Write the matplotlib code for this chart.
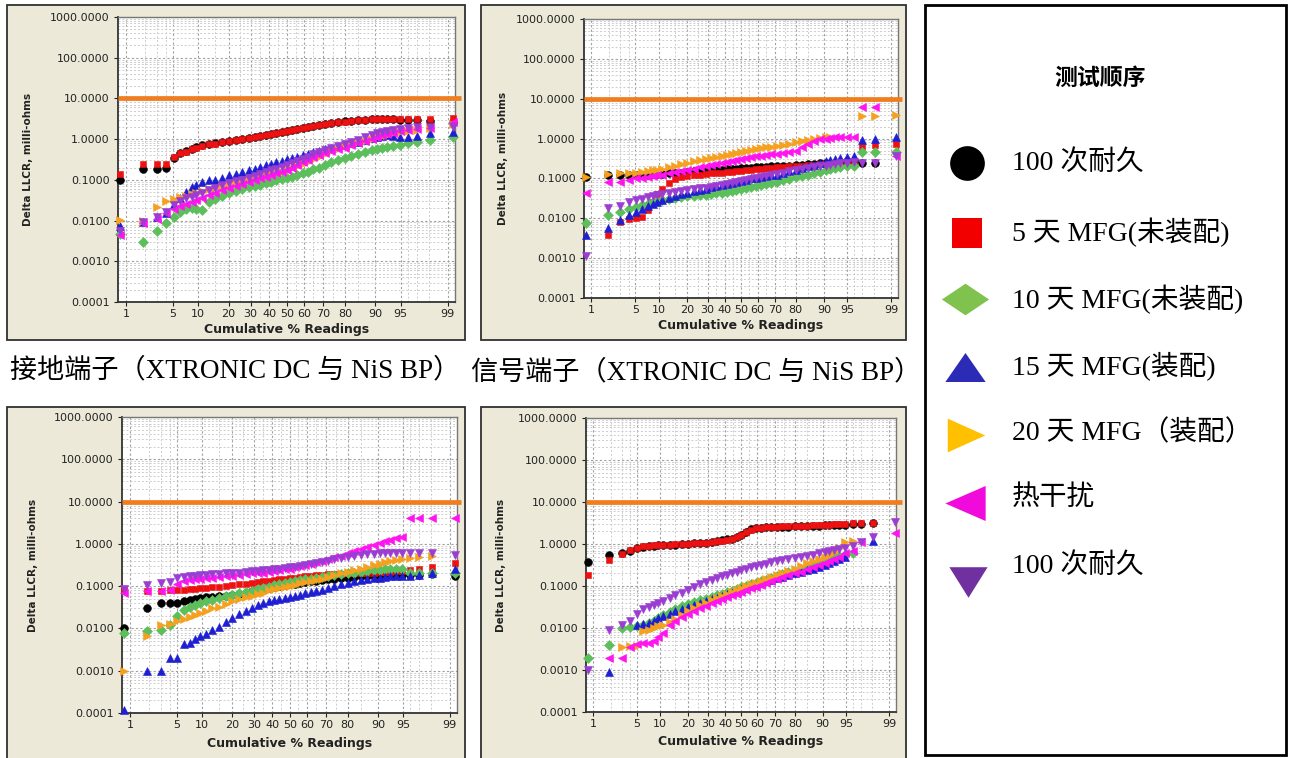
import numpy as np
import matplotlib
matplotlib.use("Agg")
import matplotlib.pyplot as plt
from matplotlib.patches import Rectangle
from matplotlib.ticker import FixedLocator, FixedFormatter, LogLocator, NullFormatter
from statistics import NormalDist

N = None  # no visible point at this rank

# ---------------- data ----------------
cum_pct = [0.8, 1.9, 3.0, 4.0, 5.1, 6.2, 7.3, 8.4, 9.5, 11, 13, 15, 17.5, 20, 23, 26, 29, 32,
           35, 38, 41, 44, 47, 50, 53, 56, 59, 62, 65, 68, 71, 74, 77, 80, 82.5, 85, 87, 89,
           90.5, 91.6, 92.7, 93.8, 94.9, 96, 97, 98.1, 99.2]

x_ticks = [1, 5, 10, 20, 30, 40, 50, 60, 70, 80, 90, 95, 99]
x_minor = [2, 3, 4, 15, 25, 35, 45, 55, 65, 75, 85, 96, 97, 98]
y_ticks = [0.0001, 0.001, 0.01, 0.1, 1, 10, 100, 1000]
y_ticklabels = ["0.0001", "0.0010", "0.0100", "0.1000", "1.0000", "10.0000", "100.0000", "1000.0000"]
limit_value = 10.0

series_labels = ["100 次耐久", "5 天 MFG(未装配)", "10 天 MFG(未装配)", "15 天 MFG(装配)",
                 "20 天 MFG（装配）", "热干扰", "100 次耐久"]
legend_title = "测试顺序"
captions = ["接地端子（XTRONIC DC 与 NiS BP）", "信号端子（XTRONIC DC 与 NiS BP）"]
y_label = "Delta LLCR, milli-ohms"
x_label = "Cumulative % Readings"

# panel 1 (top left)
p1_black = [0.10, 0.19, 0.19, 0.20, 0.35, 0.45, 0.50, 0.58, 0.64, 0.70, 0.76, 0.80, 0.87, 0.90, 0.95, 1.00,
            1.06, 1.12, 1.18, 1.24, 1.32, 1.40, 1.48, 1.56, 1.66, 1.75, 1.83, 1.95, 2.07, 2.20, 2.33, 2.47,
            2.62, 2.72, 2.82, 2.92, 3.00, 3.05, 3.10, 3.10, 3.10, 3.10, 3.00, 2.90, 2.90, 2.80, 2.70]
p1_red = [0.14, 0.24, 0.24, 0.25, 0.37, 0.45, 0.49, 0.56, 0.61, 0.67, 0.74, 0.78, 0.86, 0.90, 0.96, 1.02,
          1.08, 1.14, 1.20, 1.25, 1.33, 1.41, 1.49, 1.57, 1.67, 1.76, 1.83, 1.94, 2.05, 2.17, 2.30, 2.43,
          2.58, 2.68, 2.78, 2.89, 3.00, 3.06, 3.10, 3.20, 3.20, 3.20, 3.20, 3.10, 3.20, 3.20, 3.40]
p1_green = [0.0047, 0.0030, 0.0056, 0.0085, 0.012, 0.016, 0.019, 0.020, 0.019, 0.018, 0.028, 0.033, 0.040,
            0.047, 0.052, 0.058, 0.065, 0.070, 0.076, 0.082, 0.090, 0.098, 0.105, 0.110, 0.120, 0.130, 0.145,
            0.160, 0.180, 0.200, 0.230, 0.270, 0.310, 0.350, 0.390, 0.430, 0.480, 0.540, 0.570, 0.600, 0.640,
            0.680, 0.730, 0.800, 0.850, 0.950, 1.10]
p1_blue = [0.0075, 0.0090, 0.012, 0.015, 0.025, 0.036, 0.050, 0.066, 0.075, 0.088, 0.100, 0.100, 0.110, 0.130,
           0.140, 0.160, 0.175, 0.190, 0.210, 0.230, 0.250, 0.270, 0.290, 0.320, 0.340, 0.370, 0.400, 0.440,
           0.480, 0.520, 0.560, 0.610, 0.670, 0.730, 0.800, 0.870, 0.950, 1.05, 1.12, 1.20, 1.25, 1.20, 1.15,
           1.15, 1.20, 1.40, 1.50]
p1_orange = [0.0105, 0.0095, 0.022, 0.030, 0.034, 0.037, 0.040, 0.044, 0.048, 0.053, 0.058, 0.062, 0.068,
             0.075, 0.082, 0.090, 0.100, 0.110, 0.120, 0.130, 0.140, 0.150, 0.160, 0.180, 0.200, 0.220, 0.250,
             0.280, 0.320, 0.360, 0.420, 0.500, 0.580, 0.660, 0.750, 0.840, 0.920, 1.00, 1.10, 1.20, 1.30,
             1.40, 1.50, 1.60, 1.70, 1.90, 2.40]
p1_magenta = [0.0045, 0.0085, 0.011, 0.015, 0.019, 0.023, 0.026, 0.029, 0.032, 0.036, 0.042, 0.048, 0.055,
              0.062, 0.070, 0.078, 0.088, 0.098, 0.110, 0.120, 0.135, 0.150, 0.160, 0.175, 0.200, 0.230, 0.270,
              0.310, 0.360, 0.400, 0.450, 0.500, 0.560, 0.620, 0.700, 0.800, 0.900, 1.02, 1.12, 1.25, 1.35,
              1.45, 1.55, 1.70, 1.80, 1.85, 2.70]
p1_purple = [0.0055, 0.0094, 0.0124, 0.0165, 0.024, 0.030, 0.035, 0.039, 0.042, 0.048, 0.056, 0.064, 0.073,
             0.082, 0.092, 0.100, 0.110, 0.125, 0.140, 0.155, 0.170, 0.190, 0.210, 0.230, 0.260, 0.290, 0.330,
             0.370, 0.420, 0.470, 0.530, 0.600, 0.670, 0.750, 0.860, 0.980, 1.10, 1.25, 1.40, 1.50, 1.60,
             1.70, 1.80, 1.90, 1.95, 2.00, 2.00]

# panel 2 (top right)
p2_black = [0.11, 0.12, 0.12, 0.12, 0.12, 0.125, 0.125, 0.13, 0.13, 0.13, 0.135, 0.14, 0.14, 0.145, 0.15, 0.15,
            0.155, 0.16, 0.16, 0.165, 0.17, 0.17, 0.175, 0.18, 0.18, 0.185, 0.19, 0.19, 0.195, 0.20, 0.20, 0.21,
            0.21, 0.22, 0.22, 0.23, 0.23, 0.24, 0.24, 0.25, 0.25, 0.26, 0.27, 0.27, 0.25, 0.25, N]
p2_red = [N, 0.0039, 0.0083, 0.0095, 0.010, 0.011, 0.016, 0.025, 0.040, 0.055, 0.075, 0.095, 0.110, 0.115,
          0.120, 0.125, 0.130, 0.133, 0.136, 0.140, 0.143, 0.146, 0.150, 0.155, 0.160, 0.165, 0.170, 0.175,
          0.180, 0.185, 0.190, 0.195, 0.200, 0.205, 0.210, 0.215, 0.220, 0.225, 0.230, 0.235, 0.240, 0.245,
          0.250, 0.260, 0.600, 0.700, 0.750]
p2_green = [0.0075, 0.012, 0.014, 0.017, 0.019, 0.021, 0.023, 0.025, 0.027, 0.029, 0.031, 0.033, 0.035, 0.036,
            0.037, 0.038, 0.039, 0.040, 0.042, 0.044, 0.046, 0.048, 0.050, 0.053, 0.056, 0.060, 0.064, 0.068,
            0.072, 0.077, 0.083, 0.090, 0.098, 0.106, 0.115, 0.125, 0.135, 0.145, 0.160, 0.170, 0.180, 0.190,
            0.200, 0.210, 0.470, 0.470, 0.450]
p2_blue = [0.0039, 0.0056, 0.0090, 0.012, 0.014, 0.017, 0.020, 0.023, 0.026, 0.029, 0.033, 0.036, 0.040, 0.043,
           0.047, 0.051, 0.055, 0.060, 0.064, 0.068, 0.072, 0.077, 0.083, 0.088, 0.093, 0.100, 0.105, 0.110,
           0.115, 0.120, 0.125, 0.135, 0.150, 0.165, 0.180, 0.200, 0.220, 0.250, 0.270, 0.290, 0.310, 0.330,
           0.350, 0.370, 0.940, 1.00, 1.07]
p2_orange = [0.11, 0.13, 0.135, 0.135, 0.14, 0.145, 0.15, 0.16, 0.165, 0.17, 0.19, 0.21, 0.23, 0.25, 0.27, 0.29,
             0.31, 0.33, 0.35, 0.37, 0.39, 0.41, 0.43, 0.45, 0.48, 0.51, 0.54, 0.57, 0.60, 0.63, 0.66, 0.70,
             0.75, 0.80, 0.86, 0.92, 0.98, 1.04, 1.08, 1.10, N, N, N, N, 3.6, 3.6, 3.9]
p2_magenta = [0.043, 0.080, 0.083, 0.090, 0.100, 0.105, 0.110, 0.115, 0.120, 0.125, 0.135, 0.145, 0.155, 0.165,
              0.175, 0.190, 0.205, 0.220, 0.235, 0.250, 0.265, 0.280, 0.295, 0.310, 0.325, 0.340, 0.355, 0.370,
              0.385, 0.400, 0.415, 0.430, 0.450, 0.480, 0.600, 0.750, 0.850, 0.950, 1.00, 1.04, 1.07, 1.09,
              1.10, 1.10, 6.1, 6.1, 0.36]
p2_purple = [0.0011, 0.018, 0.020, 0.025, 0.028, 0.031, 0.034, 0.036, 0.038, 0.040, 0.043, 0.045, 0.048, 0.050,
             0.053, 0.056, 0.059, 0.062, 0.066, 0.070, 0.074, 0.078, 0.083, 0.088, 0.093, 0.098, 0.104, 0.110,
             0.117, 0.124, 0.132, 0.140, 0.150, 0.160, 0.170, 0.180, 0.190, 0.200, 0.210, 0.220, 0.230, 0.240,
             0.250, 0.260, 0.250, 0.250, 0.360]

# panel 3 (bottom left)
p3_black = [0.0105, 0.031, 0.040, 0.040, 0.040, 0.045, 0.048, 0.050, 0.052, 0.054, 0.056, 0.058, 0.060, 0.063,
            0.066, 0.070, 0.075, 0.080, 0.085, 0.090, 0.095, 0.100, 0.105, 0.110, 0.115, 0.120, 0.125, 0.130,
            0.135, 0.140, 0.145, 0.150, 0.155, 0.160, 0.165, 0.170, 0.170, 0.175, 0.175, 0.180, 0.180, 0.180,
            0.180, 0.180, 0.180, 0.190, 0.170]
p3_red = [0.080, 0.075, 0.075, 0.080, 0.080, 0.082, 0.085, 0.087, 0.090, 0.092, 0.095, 0.098, 0.100, 0.105,
          0.110, 0.115, 0.120, 0.125, 0.130, 0.135, 0.140, 0.145, 0.150, 0.155, 0.160, 0.165, 0.170, 0.175,
          0.180, 0.185, 0.190, 0.190, 0.195, 0.200, 0.200, 0.200, 0.210, 0.210, 0.220, 0.220, 0.220, 0.230,
          0.230, 0.240, 0.250, 0.280, 0.350]
p3_green = [0.0080, 0.0085, 0.0093, 0.012, 0.020, 0.028, 0.032, 0.036, 0.040, 0.044, 0.048, 0.052, 0.057, 0.062,
            0.067, 0.072, 0.078, 0.084, 0.090, 0.097, 0.104, 0.110, 0.117, 0.124, 0.130, 0.137, 0.144, 0.150,
            0.157, 0.165, 0.172, 0.180, 0.190, 0.200, 0.210, 0.220, 0.230, 0.240, 0.245, 0.250, 0.250, 0.250,
            0.260, 0.200, 0.200, 0.210, 0.200]
p3_blue = [0.00012, 0.0010, 0.0010, 0.0020, 0.0020, 0.0042, 0.0045, 0.0055, 0.0065, 0.0075, 0.0090, 0.011,
           0.014, 0.018, 0.022, 0.026, 0.030, 0.035, 0.040, 0.045, 0.048, 0.050, 0.053, 0.056, 0.060, 0.063,
           0.067, 0.072, 0.077, 0.083, 0.090, 0.100, 0.110, 0.120, 0.130, 0.140, 0.150, 0.155, 0.160, 0.165,
           0.170, 0.170, 0.175, 0.175, 0.180, 0.200, 0.250]
p3_orange = [0.0010, 0.0065, 0.012, 0.013, 0.015, 0.017, 0.019, 0.021, 0.023, 0.026, 0.030, 0.033, 0.037,
             0.045, 0.050, 0.055, 0.060, 0.065, 0.070, 0.080, 0.085, 0.090, 0.095, 0.100, 0.105, 0.120, 0.125,
             0.130, 0.140, 0.150, 0.165, 0.180, 0.200, 0.220, 0.240, 0.260, 0.280, 0.310, 0.340, 0.370, 0.400,
             0.420, 0.440, 0.470, 0.500, 0.520, N]
p3_magenta = [0.070, 0.075, 0.075, 0.080, 0.110, 0.130, 0.140, 0.145, 0.150, 0.155, 0.160, 0.165, 0.170, 0.175,
              0.180, 0.190, 0.200, 0.205, 0.210, 0.220, 0.230, 0.240, 0.250, 0.260, 0.280, 0.300, 0.320, 0.340,
              0.370, 0.400, 0.440, 0.480, 0.530, 0.600, 0.670, 0.750, 0.850, 0.950, 1.05, 1.15, 1.25, 1.35,
              1.45, 4.0, 4.0, 4.0, 4.1]
p3_purple = [0.085, 0.105, 0.120, 0.125, 0.160, 0.165, 0.170, 0.175, 0.180, 0.185, 0.190, 0.195, 0.200, 0.205,
             0.210, 0.220, 0.225, 0.230, 0.240, 0.245, 0.250, 0.260, 0.270, 0.280, 0.290, 0.300, 0.310, 0.330,
             0.350, 0.370, 0.400, 0.430, 0.460, 0.500, 0.530, 0.560, 0.580, 0.590, 0.600, 0.600, 0.600, 0.600,
             0.600, 0.600, 0.600, 0.620, 0.550]

# panel 4 (bottom right)
p4_black = [0.38, 0.55, 0.60, 0.70, 0.80, 0.87, 0.90, 0.92, 0.94, 0.95, 0.96, 0.97, 0.99, 1.01, 1.03, 1.05, 1.08,
            1.12, 1.17, 1.22, 1.28, 1.35, 1.45, 1.65, 1.95, 2.25, 2.40, 2.45, 2.50, 2.50, 2.55, 2.60, 2.60,
            2.65, 2.70, 2.70, 2.75, 2.75, 2.80, 2.80, 2.85, 2.90, 2.90, 3.00, 3.00, 3.10, N]
p4_red = [0.18, 0.42, 0.58, 0.72, 0.82, 0.88, 0.92, 0.94, 0.95, 0.96, 0.97, 0.98, 1.00, 1.02, 1.04, 1.06, 1.08,
          1.12, 1.16, 1.20, 1.26, 1.33, 1.45, 1.60, 1.90, 2.20, 2.35, 2.45, 2.50, 2.55, 2.60, 2.62, 2.65, 2.70,
          2.72, 2.75, 2.78, 2.80, 2.85, 2.90, 2.95, 3.00, 3.00, 3.10, 3.20, 3.20, N]
p4_green = [0.0019, 0.0039, 0.0098, 0.0105, 0.011, 0.012, 0.013, 0.015, 0.017, 0.020, 0.024, 0.028, 0.033,
            0.038, 0.042, 0.046, 0.050, 0.055, 0.060, 0.066, 0.072, 0.078, 0.085, 0.093, 0.100, 0.110, 0.120,
            0.130, 0.140, 0.155, 0.170, 0.190, 0.210, 0.230, 0.260, 0.290, 0.320, 0.360, 0.400, 0.440, 0.480,
            0.520, 0.550, 0.600, N, N, N]
p4_blue = [N, 0.0009, N, N, 0.012, 0.0125, 0.013, 0.015, 0.017, 0.019, 0.022, 0.025, 0.028, 0.031, 0.035, 0.039,
           0.043, 0.048, 0.053, 0.058, 0.064, 0.070, 0.076, 0.083, 0.090, 0.098, 0.107, 0.117, 0.128, 0.140,
           0.153, 0.167, 0.180, 0.200, 0.220, 0.240, 0.260, 0.290, 0.320, 0.360, 0.400, 0.450, 0.500, N, N,
           1.2, N]
p4_orange = [N, N, 0.0036, 0.0037, 0.0038, 0.0085, 0.0090, 0.010, 0.011, 0.012, 0.014, 0.016, 0.020, 0.025,
             0.030, 0.035, 0.040, 0.046, 0.052, 0.058, 0.065, 0.072, 0.080, 0.090, 0.100, 0.110, 0.120, 0.130,
             0.145, 0.160, 0.180, 0.200, 0.230, 0.260, 0.300, 0.350, 0.400, 0.450, 0.500, 0.560, 0.650, 0.800,
             1.10, 1.20, N, N, N]
p4_magenta = [N, 0.0019, 0.0019, 0.0036, 0.0042, 0.0043, 0.0045, 0.0048, 0.0062, 0.0078, 0.012, 0.015, 0.018,
              0.022, 0.026, 0.030, 0.034, 0.039, 0.044, 0.049, 0.055, 0.060, 0.066, 0.073, 0.080, 0.088, 0.097,
              0.107, 0.118, 0.130, 0.143, 0.160, 0.180, 0.200, 0.220, 0.250, 0.280, 0.310, 0.350, 0.400, 0.450,
              0.500, 0.600, 0.700, 1.10, N, 1.80]
p4_purple = [0.0010, 0.0089, 0.012, 0.015, 0.022, 0.028, 0.032, 0.036, 0.040, 0.045, 0.052, 0.060, 0.070,
             0.080, 0.095, 0.110, 0.125, 0.140, 0.155, 0.170, 0.185, 0.200, 0.220, 0.240, 0.260, 0.280, 0.300,
             0.320, 0.340, 0.370, 0.400, 0.420, 0.440, 0.470, 0.500, 0.520, 0.550, 0.600, 0.640, 0.680, 0.720,
             0.760, 0.800, 0.900, 1.10, 1.50, 3.40]

# ---------------- styles ----------------
W, H = 1289, 758
markers = ['o', 's', 'D', '^', '>', '<', 'v']
plot_colors = ['#000000', '#EE1111', '#5CBF5C', '#1E1ED2', '#F5A01E', '#FF14F0', '#9B3CD2']
plot_ms = [5.6, 5.0, 4.6, 6.0, 6.0, 6.0, 6.0]
legend_colors = ['#000000', '#F20000', '#80C24E', '#2B2BB5', '#FFC000', '#F00ADC', '#7030A0']
frame_face = '#ECE9D8'
limit_color = '#F07D1E'
serif_cjk = ['Liberation Serif', 'Noto Sans CJK SC']

panels = [
    dict(series=[p1_black, p1_red, p1_green, p1_blue, p1_orange, p1_magenta, p1_purple],
         ax_px=(118, 17, 455, 302), frame_px=(7, 5, 465, 340), ylab_x=28, xlab_y=330),
    dict(series=[p2_black, p2_red, p2_green, p2_blue, p2_orange, p2_magenta, p2_purple],
         ax_px=(584, 19, 898, 298), frame_px=(481, 5, 906, 340), ylab_x=503, xlab_y=325),
    dict(series=[p3_black, p3_red, p3_green, p3_blue, p3_orange, p3_magenta, p3_purple],
         ax_px=(122, 417, 457, 713), frame_px=(7, 407, 465, 762), ylab_x=33, xlab_y=743),
    dict(series=[p4_black, p4_red, p4_green, p4_blue, p4_orange, p4_magenta, p4_purple],
         ax_px=(586, 418, 896, 712), frame_px=(481, 407, 906, 762), ylab_x=501, xlab_y=742),
]

_nd = NormalDist()


def prob_fwd(p):
    p = np.asarray(p, dtype=float)
    out = np.full(p.shape, np.nan)
    m = np.isfinite(p)
    q = np.clip(p[m] / 100.0, 1e-9, 1 - 1e-9)
    out[m] = [_nd.inv_cdf(v) for v in q]
    return out


def prob_inv(z):
    z = np.asarray(z, dtype=float)
    out = np.full(z.shape, np.nan)
    m = ~np.isnan(z)
    out[m] = [100.0 * _nd.cdf(v) for v in z[m]]
    return out


fig = plt.figure(figsize=(W / 100, H / 100), dpi=100)
fig.patch.set_facecolor('white')

# background layer in pixel coordinates (frames, captions, legend box)
bg = fig.add_axes([0, 0, 1, 1], zorder=-1)
bg.set_xlim(0, W)
bg.set_ylim(H, 0)
bg.axis('off')

for pan in panels:
    fl, ft, fr, fb = pan['frame_px']
    bg.add_patch(Rectangle((fl, ft), fr - fl, fb - ft, facecolor=frame_face,
                           edgecolor='#303030', lw=1.3))

    l, t, r, b = pan['ax_px']
    ax = fig.add_axes([l / W, 1 - b / H, (r - l) / W, (b - t) / H])
    ax.set_facecolor('white')
    ax.set_xscale('function', functions=(prob_fwd, prob_inv))
    ax.set_yscale('log')
    ax.set_xlim(0.73, 99.25)
    ax.set_ylim(1e-4, 1e3)
    ax.set_axisbelow(True)

    ax.xaxis.set_major_locator(FixedLocator(x_ticks))
    ax.xaxis.set_major_formatter(FixedFormatter([str(v) for v in x_ticks]))
    ax.xaxis.set_minor_locator(FixedLocator(x_minor))
    ax.xaxis.set_minor_formatter(NullFormatter())
    ax.yaxis.set_major_locator(FixedLocator(y_ticks))
    ax.yaxis.set_major_formatter(FixedFormatter(y_ticklabels))
    ax.yaxis.set_minor_locator(LogLocator(base=10, subs=np.arange(2, 10), numticks=30))
    ax.yaxis.set_minor_formatter(NullFormatter())

    ax.grid(True, which='major', color='#A0A0A0', lw=0.8, ls=(0, (2, 2)))
    ax.grid(True, which='minor', color='#CDCDCD', lw=0.7, ls=(0, (2, 2)))
    ax.tick_params(which='major', length=3, width=0.8, labelsize=8, colors='#222222', pad=2)
    ax.tick_params(axis='y', which='major', pad=3)
    ax.tick_params(which='minor', length=0)
    for name, sp in ax.spines.items():
        sp.set_color('#333333' if name in ('left', 'bottom') else '#777777')
        sp.set_linewidth(1.3 if name in ('left', 'bottom') else 1.0)

    for vals, mk, col, ms in zip(pan['series'], markers, plot_colors, plot_ms):
        ax.plot(cum_pct, np.array(vals, dtype=float), linestyle='none', marker=mk, ms=ms,
                color=col, mec=col, mew=0.4, clip_on=False, zorder=3)

    ext = (fr - 4 - l) / (r - l)
    ax.plot([0, ext], [limit_value, limit_value], transform=ax.get_yaxis_transform(),
            color=limit_color, lw=3.4, clip_on=False, zorder=4, solid_capstyle='butt')

    ax.set_ylabel(y_label, fontsize=7.5, fontweight='bold', color='#222222')
    ax.yaxis.set_label_coords((pan['ylab_x'] - l) / (r - l), 0.5)
    ax.yaxis.label.set_va('center')
    ax.set_xlabel(x_label, fontsize=9, fontweight='bold', color='#222222')
    ax.xaxis.set_label_coords(0.5, (b - pan['xlab_y']) / (b - t))
    ax.xaxis.label.set_va('center')

# captions under the top panels
bg.text(10, 371, captions[0], ha='left', va='center', fontsize=19.5, family=serif_cjk)
bg.text(471, 373, captions[1], ha='left', va='center', fontsize=19.5, family=serif_cjk)

# legend panel
bg.add_patch(Rectangle((925, 5), 1286 - 925, 755 - 5, facecolor='white', edgecolor='black', lw=2.0))
bg.text(1100, 78, legend_title, ha='center', va='center', fontsize=16.5, fontweight='bold',
        family=['Noto Sans CJK SC'])
leg_markers = ['o', 's',
               [(-1, 0), (0, 0.67), (1, 0), (0, -0.67)],
               [(0, 0.72), (-1, -0.72), (1, -0.72)],
               [(1, 0), (-1, 0.9), (-1, -0.9)],
               [(-1, 0), (1, 0.87), (1, -0.87)],
               [(0, -0.8), (-1, 0.8), (1, 0.8)]]
leg_ms = [25, 22, 34, 29, 27, 29, 27.5]
leg_marker_xy = [(967, 163), (967, 233), (965, 299), (965, 367), (966, 435), (965, 503), (968, 582)]
leg_text_y = [163, 232, 299, 366, 433, 498, 566]
for lab, mk, ms, col, (mx, my), ty in zip(series_labels, leg_markers, leg_ms, legend_colors,
                                          leg_marker_xy, leg_text_y):
    bg.plot([mx], [my], linestyle='none', marker=mk, ms=ms, color=col, mec=col, mew=0)
    bg.text(1012, ty, lab, ha='left', va='center', fontsize=20, family=serif_cjk)

fig.savefig('out.png', dpi=100)
